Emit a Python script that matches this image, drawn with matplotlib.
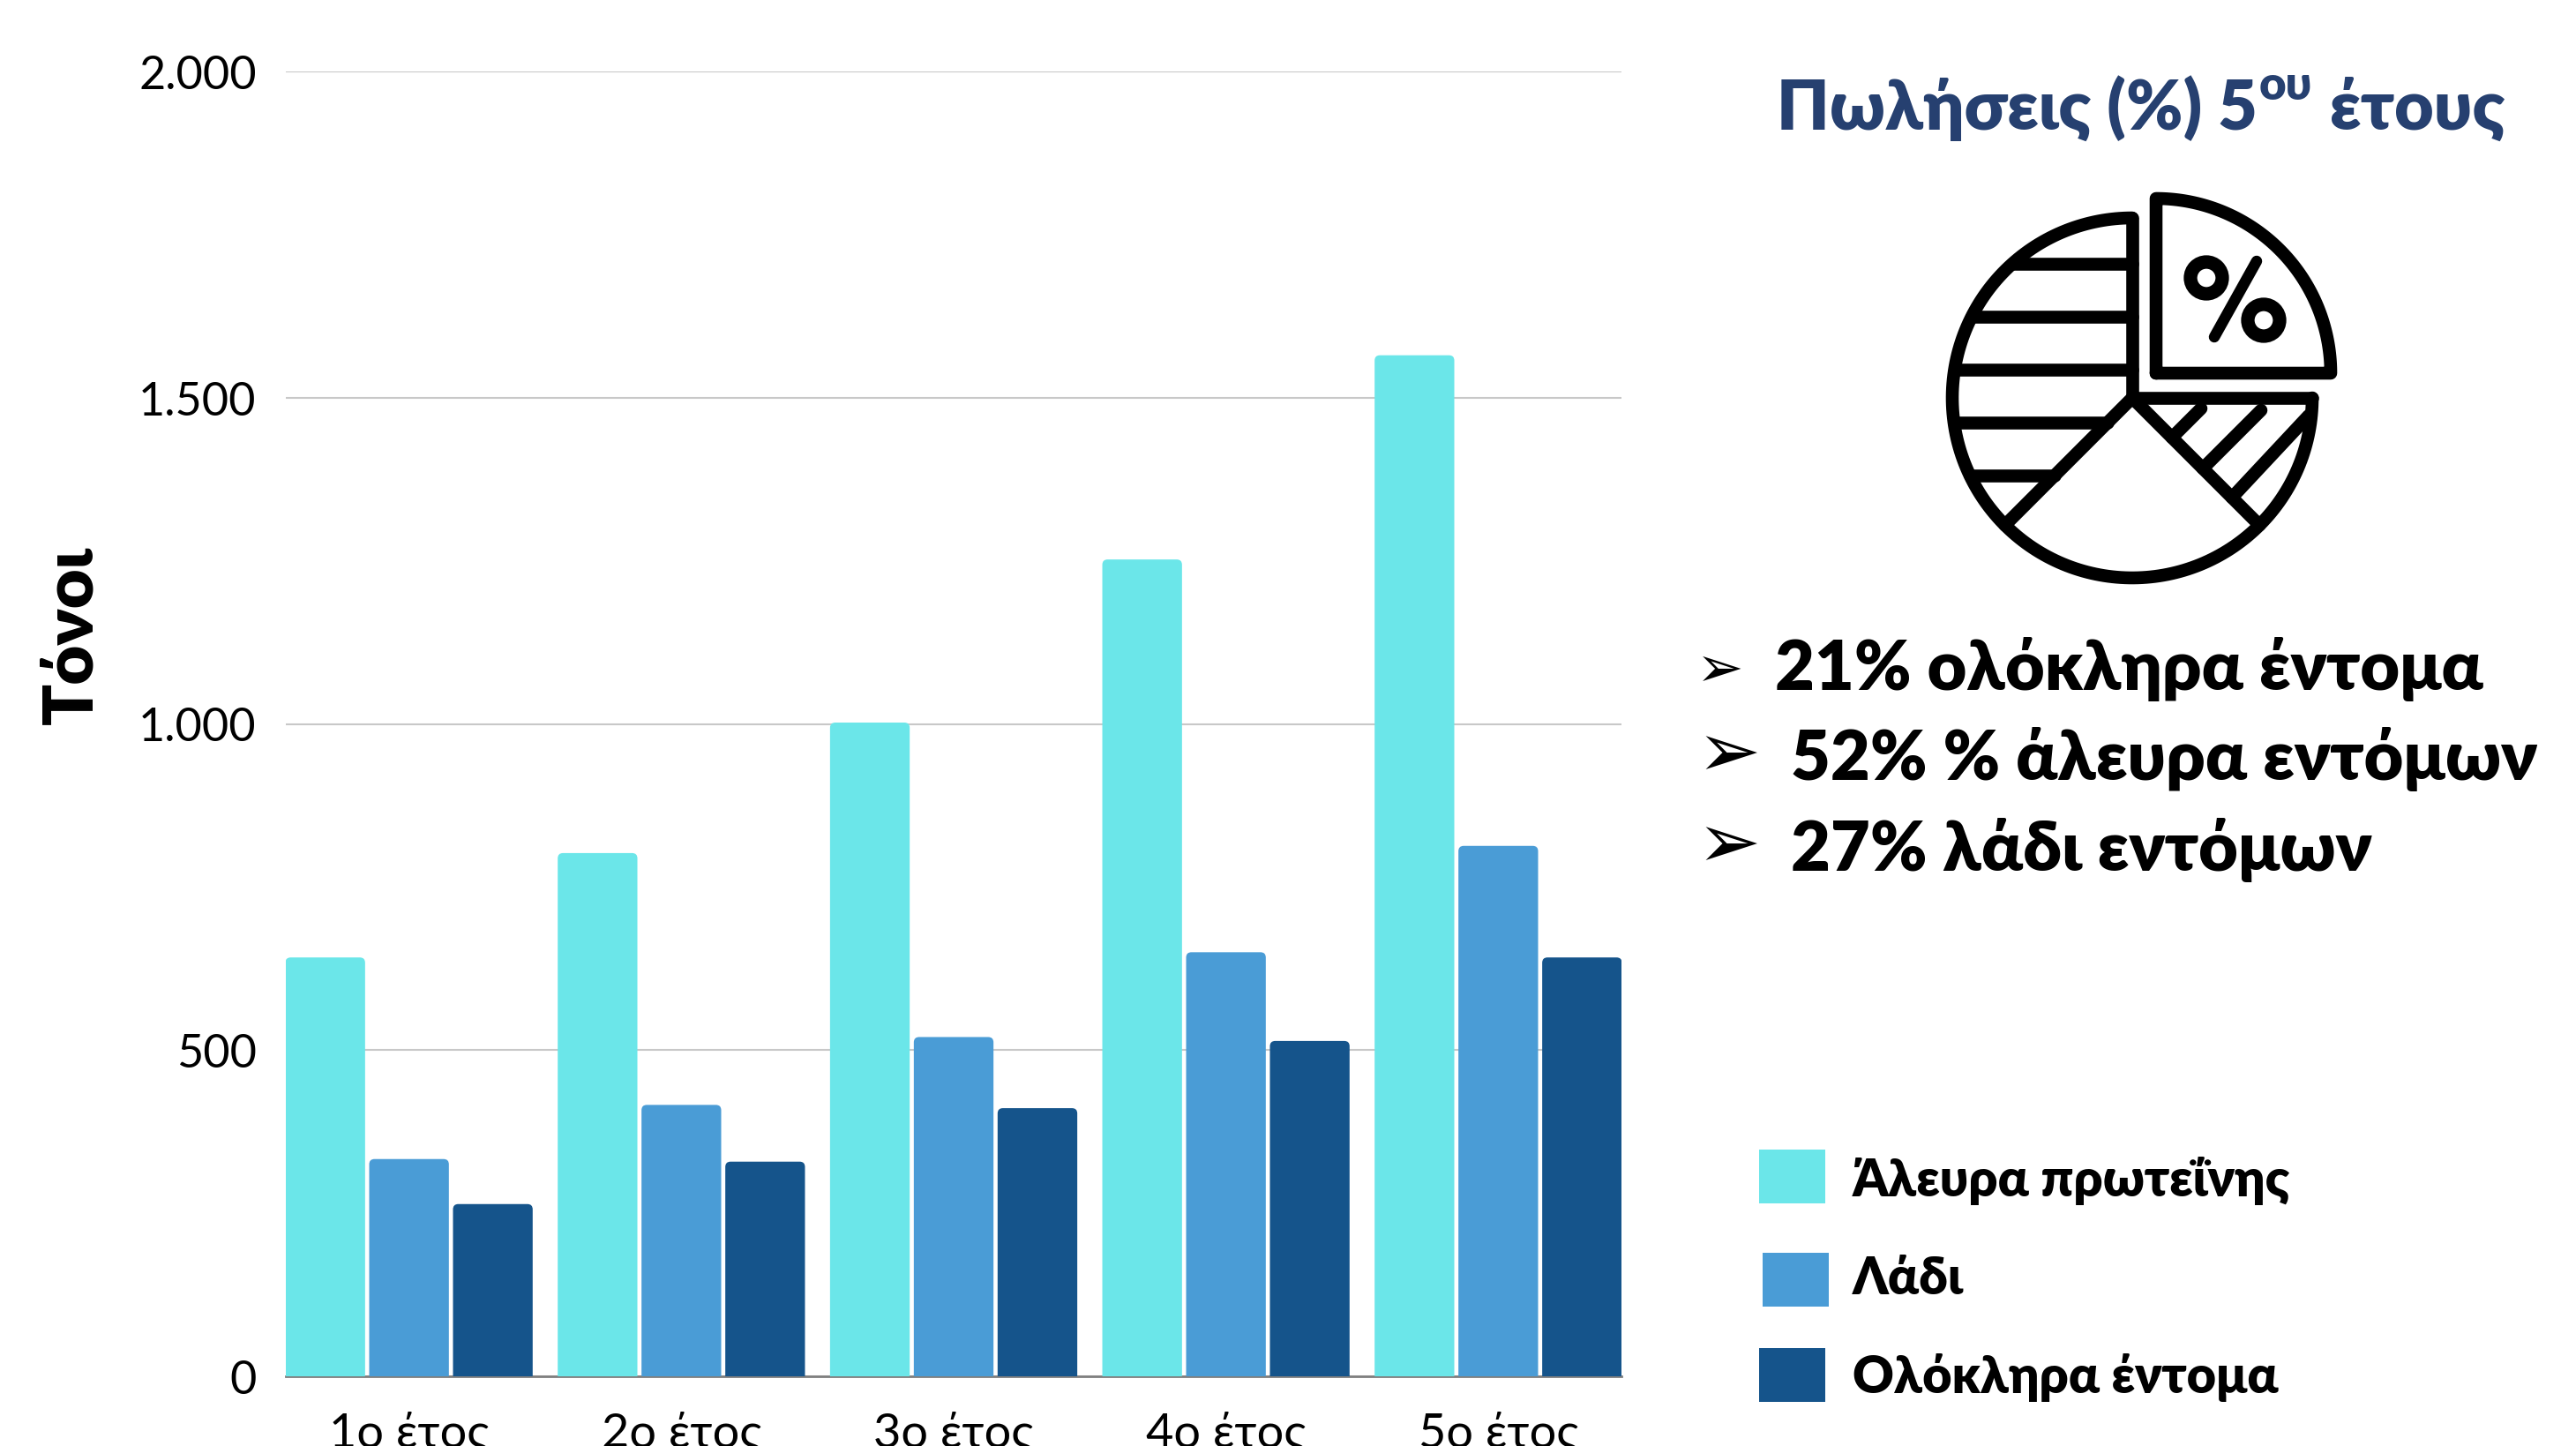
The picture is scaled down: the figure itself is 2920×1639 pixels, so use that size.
import numpy as np
import matplotlib
matplotlib.use('Agg')
import matplotlib.pyplot as plt
from matplotlib.patches import PathPatch, Rectangle, Circle
from matplotlib.path import Path

plt.rcParams['font.family'] = ['Lato', 'Open Sans', 'DejaVu Sans']

years = ['1ο έτος', '2ο έτος', '3ο έτος', '4ο έτος', '5ο έτος']
flour = [642, 802, 1002, 1252, 1565]
oil = [333, 416, 520, 650, 813]
whole = [264, 329, 411, 514, 642]
yticks = [0, 500, 1000, 1500, 2000]
ytick_labels = ['0', '500', '1.000', '1.500', '2.000']

series_names = ['Άλευρα πρωτεΐνης', 'Λάδι', 'Ολόκληρα έντομα']
series_colors = ['#6BE6E9', '#4A9CD6', '#15548B']
bullets = ['21% ολόκληρα έντομα', '52% % άλευρα εντόμων', '27% λάδι εντόμων']

W, H = 2920, 1640
fig = plt.figure(figsize=(W / 100, H / 100), dpi=100, facecolor='white')

ax = fig.add_axes([324 / W, 1 - 1561 / H, (1838 - 324) / W, (1561 - 82) / H])
bar_w = 0.2926
step = 0.3077
ax.set_xlim(-0.4525, 4.4525)
ax.set_ylim(0, 2000)

# px per data unit, needed for the rounded corners
rx = 6 / (1514 / 4.905)
ry = 6 / (1479 / 2000)


def rounded_bar(x, h, color):
    l, r = x - bar_w / 2, x + bar_w / 2
    verts = [(l, 0), (l, h - ry), (l, h), (l + rx, h), (r - rx, h), (r, h), (r, h - ry), (r, 0), (l, 0)]
    codes = [Path.MOVETO, Path.LINETO, Path.CURVE3, Path.CURVE3, Path.LINETO, Path.CURVE3, Path.CURVE3, Path.LINETO,
             Path.CLOSEPOLY]
    ax.add_patch(PathPatch(Path(verts, codes), facecolor=color, edgecolor='none', zorder=3))


xs = np.arange(len(years))
for k, vals in enumerate([flour, oil, whole]):
    for x, v in zip(xs, vals):
        rounded_bar(x + (k - 1) * step, v, series_colors[k])

ax.set_yticks(yticks)
ax.set_yticklabels(ytick_labels, fontsize=37.5, color='black')
ax.set_xticks(xs)
ax.set_xticklabels(years, fontsize=39, color='black')
ax.tick_params(axis='both', length=0)
ax.tick_params(axis='y', pad=24)
ax.tick_params(axis='x', pad=28)
ax.grid(axis='y', color='#C8C8C8', linewidth=1.5, zorder=0)
ax.set_axisbelow(True)
for s in ['top', 'right', 'left']:
    ax.spines[s].set_visible(False)
ax.spines['bottom'].set_color('#7F7F7F')
ax.spines['bottom'].set_linewidth(2)
ax.spines['bottom'].set_zorder(2)

# overlay in picture pixels for the right hand panel
ov = fig.add_axes([0, 0, 1, 1], facecolor='none')
ov.set_xlim(0, W)
ov.set_ylim(H, 0)
ov.axis('off')

ov.text(82, 720, 'Τόνοι', fontsize=56, fontweight='heavy', rotation=90, ha='center', va='center', color='black')

# title, with the raised ου, all parts placed after measuring the one before
navy = '#264070'
rend = fig.canvas.get_renderer()
tx = 2014
for part, size, rise in [('Πωλήσεις (%) 5', 55.5, 0), ('ου', 38, 34), (' έτους', 55.5, 0)]:
    t = ov.text(tx, 147 - rise, part, fontsize=size, fontweight='heavy', color=navy, ha='left', va='baseline')
    tx = t.get_window_extent(rend).x1 + 2

# icon
cx, cy, r = 2417, 452, 204
lw = 10.5
kw = dict(color='black', lw=lw, solid_capstyle='round', solid_joinstyle='round')
a = np.radians(np.linspace(90, 360, 200))
ov.plot(cx + r * np.cos(a), cy - r * np.sin(a), **kw)
ov.plot([cx, cx], [cy - r, cy], **kw)
ov.plot([cx, cx + r], [cy, cy], **kw)
d = r * np.cos(np.radians(45))
ov.plot([cx, cx - d], [cy, cy + d], **kw)
ov.plot([cx, cx + d], [cy, cy + d], **kw)
for dy, stop in [(-152, 0), (-92, 0), (-32, 0), (28, 28), (88, 88)]:
    ov.plot([cx - np.sqrt(r ** 2 - dy ** 2), cx - stop], [cy + dy, cy + dy], **kw)
for x0, y0, x1, y1 in [(45, 45, 78, 12), (80, 80, 146, 14), (113, 113, 200, 20)]:
    ov.plot([cx + x0, cx + x1], [cy + y0, cy + y1], **kw)

qx, qy, qr = cx + 27, cy - 28, 198
a = np.radians(np.linspace(0, 90, 100))
ov.plot(np.r_[qx, qx + qr * np.cos(a), qx], np.r_[qy, qy - qr * np.sin(a), qy], **kw)
ov.add_patch(Circle((qx + 57, qy - 108), 18, fill=False, edgecolor='black', lw=11))
ov.add_patch(Circle((qx + 122, qy - 60), 18, fill=False, edgecolor='black', lw=11))
ov.plot([qx + 66, qx + 114], [qy - 41, qy - 127], color='black', lw=9, solid_capstyle='round')

# bullet list
bullet_y = [782, 884, 987]
bullet_x = [2012, 2030, 2030]
arrow_size = [46, 62, 62]
for txt, x, y, s in zip(bullets, bullet_x, bullet_y, arrow_size):
    ov.text(1923, y - 4, '➢', fontsize=s, family='DejaVu Sans', ha='left', va='baseline', color='black')
    ov.text(x, y, txt, fontsize=55.7, fontweight='heavy', ha='left', va='baseline', color='black')

# legend
leg_x = [1994, 1998, 1994]
leg_y = [1304, 1421, 1529]
leg_base = [1356, 1467, 1579]
for name, col, x, y, b in zip(series_names, series_colors, leg_x, leg_y, leg_base):
    ov.add_patch(Rectangle((x, y), 75, 61, facecolor=col, edgecolor='none'))
    ov.text(2100, b, name, fontsize=41.5, fontweight='heavy', ha='left', va='baseline', color='black')

fig.savefig('out.png', dpi=100)
